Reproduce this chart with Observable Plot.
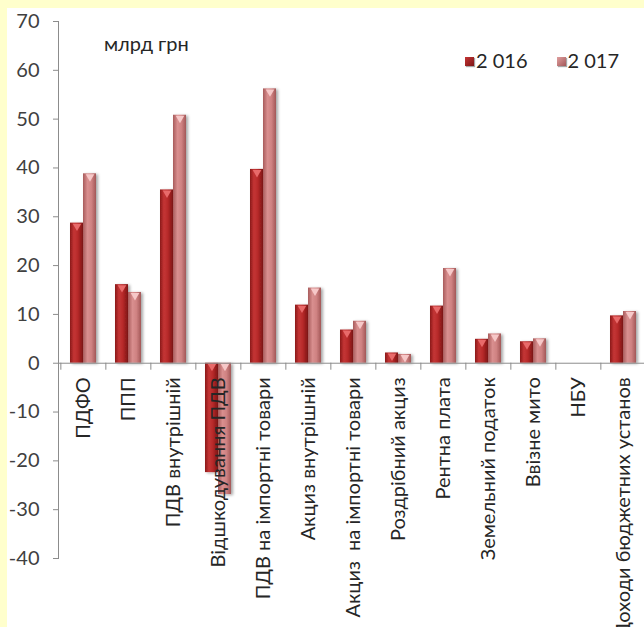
<!DOCTYPE html>
<html><head><meta charset="utf-8">
<script src="https://cdn.jsdelivr.net/npm/d3@7"></script>
<script src="https://cdn.jsdelivr.net/npm/@observablehq/plot@0.6"></script>
<style>
html,body{margin:0;padding:0;background:#FFFFCC;overflow:hidden;width:644px;height:627px}
#wrap{position:absolute;left:7px;top:8px;width:637px;height:619px;background:#fff;font-family:Lato, "Liberation Sans", sans-serif;overflow:hidden}
.lbl{position:absolute;font-size:20px;color:#262626;white-space:pre;line-height:1}
.sw{display:inline-block;width:9px;height:9px;margin-right:2px;vertical-align:2px;box-shadow:1px 1px 1px rgba(0,0,0,0.35)}
</style></head><body><div id="wrap"></div>
<script>
const categories = ["ПДФО","ППП","ПДВ внутрішній","Відшкодування ПДВ","ПДВ на імпортні товари","Акциз внутрішній","Акциз  на імпортні товари","Роздрібний акциз","Рентна плата","Земельний податок","Ввізне мито","НБУ","Доходи бюджетних установ"];
const values2016 = [28.7, 16.1, 35.5, -22.4, 39.7, 11.9, 6.8, 2.1, 11.7, 4.9, 4.4, 0, 9.7];
const values2017 = [38.8, 14.5, 50.8, -26.9, 56.2, 15.4, 8.6, 1.8, 19.4, 6.0, 5.0, 0, 10.6];
const years = ["2 016", "2 017"];
const yTicks = [-40,-30,-20,-10,0,10,20,30,40,50,60,70];
const unitLabel = "млрд грн";

const d16 = categories.map((c,i)=>({cat:c, v:values2016[i]}));
const d17 = categories.map((c,i)=>({cat:c, v:values2017[i]}));

const W = 637, H = 619, left = 51, right = 640;
const step = (right-left)/categories.length;
const pin = 1 - 26/step;

const bevel = (data, dx, fill) => Plot.dot(data.filter(d => d.v !== 0), {
  x: "cat", y: d => Math.max(d.v, 0), symbol: "triangle", rotate: 180, r: 3.2,
  dx, dy: 3, fill, stroke: "none"
});

const chart = Plot.plot({
  width: W, height: H,
  marginLeft: left, marginRight: 0, marginTop: 13, marginBottom: H-550,
  style: {fontFamily: "Lato, 'Liberation Sans', sans-serif", background: "transparent", overflow: "visible"},
  x: {domain: categories, range: [left, right], paddingInner: pin, paddingOuter: pin/2, axis: null},
  y: {domain: [-40, 70], axis: null},
  marks: [
    Plot.barY(d16, {x: "cat", y: "v", fill: "url(#g16)", insetRight: 13, insetLeft: 0}),
    Plot.barY(d17, {x: "cat", y: "v", fill: "url(#g17)", insetLeft: 13, insetRight: 0}),
    bevel(d16, -6.5, "#e86a6a"),
    bevel(d17, 6.5, "#f6c8c8"),
    Plot.ruleY([0], {stroke: "#8c8c8c", strokeWidth: 1}),
    Plot.ruleX(categories, {x: d=>d, y1: 0, y2: 0, insetBottom: -7, dx: -step/2, stroke: "#8c8c8c"}),
    Plot.frame({anchor: "left", stroke: "#8c8c8c"}),
    Plot.axisY({ticks: yTicks, label: null, tickSize: 5, tickPadding: 14, tickFormat: d => d.toString(), fontSize: 20, color: "#404040", stroke: "#8c8c8c"}),
    Plot.text(categories, {x: d=>d, y: 0, text: d=>d, rotate: -90, textAnchor: "end", lineAnchor: "middle", dy: 14, fontSize: 20, fill: "#262626"})
  ]
});

// gradients and shadow
const ns = "http://www.w3.org/2000/svg";
const defs = document.createElementNS(ns, "defs");
defs.innerHTML = `
<linearGradient id="g16" x1="0" x2="1" y1="0" y2="0">
  <stop offset="0" stop-color="#8a1a1a"/><stop offset="0.3" stop-color="#c43535"/>
  <stop offset="0.6" stop-color="#b72a2a"/><stop offset="1" stop-color="#7d1515"/>
</linearGradient>
<linearGradient id="g17" x1="0" x2="1" y1="0" y2="0">
  <stop offset="0" stop-color="#a85c5c"/><stop offset="0.35" stop-color="#d98f8f"/>
  <stop offset="0.65" stop-color="#cf8282"/><stop offset="1" stop-color="#a35757"/>
</linearGradient>
<filter id="sh" x="-30%" y="-10%" width="170%" height="120%">
  <feDropShadow dx="2" dy="1" stdDeviation="1.5" flood-color="#000" flood-opacity="0.35"/>
</filter>`;
chart.insertBefore(defs, chart.firstChild);
chart.querySelectorAll('g[aria-label="bar"]').forEach(g => g.setAttribute("filter", "url(#sh)"));
chart.querySelectorAll('g[aria-label="text"] text').forEach(t => t.setAttribute("xml:space", "preserve"));
chart.querySelectorAll('g[aria-label="text"]').forEach(g => g.style.whiteSpace = "pre");

const wrap = document.getElementById("wrap");
wrap.appendChild(chart);

const u = document.createElement("div");
u.className = "lbl"; u.textContent = unitLabel;
u.style.left = "97px"; u.style.top = "25px";
wrap.appendChild(u);

const lg = document.createElement("div");
lg.className = "lbl"; lg.style.left = "458px"; lg.style.top = "42px";
lg.innerHTML = `<span class="sw" style="background:linear-gradient(135deg,#c43535,#7d1515)"></span>${years[0]}<span style="display:inline-block;width:29px"></span><span class="sw" style="background:linear-gradient(135deg,#e0a0a0,#a35757)"></span>${years[1]}`;
wrap.appendChild(lg);
</script>
</body></html>
